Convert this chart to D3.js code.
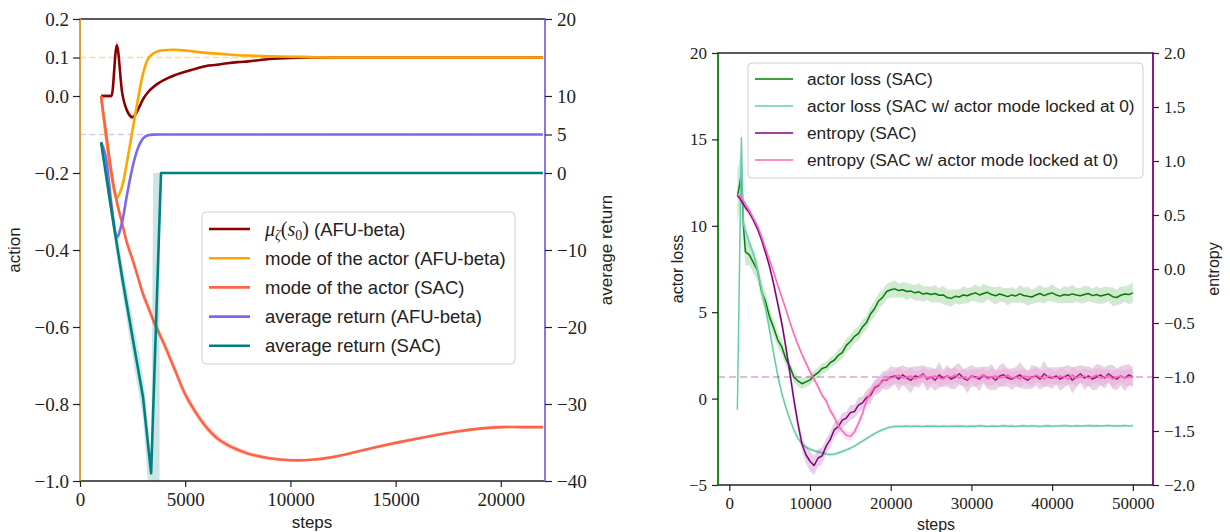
<!DOCTYPE html>
<html>
<head>
<meta charset="utf-8">
<script src="https://cdn.jsdelivr.net/npm/d3@7"></script>
<style>
  body { margin: 0; background: #fff; }
  svg { display: block; }
</style>
</head>
<body>
<svg id="chart" width="1230" height="532"></svg>
<script>
// ---------- Left panel: action / average return vs steps ----------
const stepsL = [1000, 1250, 1500, 1750, 2000, 2250, 2500, 2750, 3000, 3250, 3500, 3750, 4000, 4500,
  5000, 5500, 6000, 6500, 7000, 7500, 8000, 9000, 10000, 11000, 12000, 13000, 14000, 15000,
  16000, 17000, 18000, 19000, 20000, 21000, 22000];

const muAFU = [0, 0, 0, 0.132, 0.01, -0.04, -0.055, -0.036, -0.008, 0.011, 0.024, 0.034, 0.042, 0.054,
  0.063, 0.071, 0.078, 0.081, 0.085, 0.088, 0.09, 0.096, 0.099, 0.1, 0.1, 0.1, 0.1, 0.1,
  0.1, 0.1, 0.1, 0.1, 0.1, 0.1, 0.1];
const muAFUSpread = [0.006, 0.006, 0.006, 0.012, 0.008, 0.006, 0.006, 0.005, 0.004, 0.004, 0.004, 0.003, 0.003, 0.003,
  0.003, 0.003, 0.003, 0.002, 0.002, 0.002, 0.002, 0.002, 0.002, 0.002, 0.002, 0.002, 0.002, 0.002,
  0.002, 0.002, 0.002, 0.002, 0.002, 0.002, 0.002];

const modeAFU = [0, -0.114, -0.21, -0.265, -0.235, -0.166, -0.088, -0.01, 0.059, 0.098, 0.111, 0.117, 0.119, 0.12,
  0.118, 0.115, 0.112, 0.11, 0.108, 0.106, 0.105, 0.103, 0.102, 0.101, 0.1, 0.1, 0.1, 0.1,
  0.1, 0.1, 0.1, 0.1, 0.1, 0.1, 0.1];
const modeAFUSpread = [0.003, 0.004, 0.004, 0.005, 0.005, 0.004, 0.004, 0.004, 0.003, 0.003, 0.003, 0.003, 0.003, 0.003,
  0.003, 0.003, 0.003, 0.003, 0.003, 0.003, 0.003, 0.003, 0.003, 0.003, 0.003, 0.003, 0.003, 0.003,
  0.003, 0.003, 0.003, 0.003, 0.003, 0.003, 0.003];

const modeSAC = [0, -0.1, -0.2, -0.275, -0.33, -0.385, -0.425, -0.47, -0.515, -0.55, -0.585, -0.615, -0.645, -0.71,
  -0.775, -0.822, -0.86, -0.888, -0.906, -0.919, -0.929, -0.941, -0.946, -0.945, -0.938, -0.926, -0.913, -0.901,
  -0.89, -0.88, -0.871, -0.864, -0.86, -0.86, -0.86];
const modeSACSpread = [0.008, 0.01, 0.012, 0.012, 0.012, 0.012, 0.012, 0.012, 0.013, 0.013, 0.013, 0.013, 0.013, 0.013,
  0.012, 0.011, 0.01, 0.009, 0.008, 0.007, 0.006, 0.005, 0.004, 0.004, 0.004, 0.004, 0.004, 0.004,
  0.004, 0.004, 0.004, 0.004, 0.004, 0.004, 0.004];

const returnAFU = [4.0, 1.7, -4.2, -8.3, -6.4, -2.6, 0.8, 3.2, 4.5, 4.9, 4.98, 5, 5, 5,
  5, 5, 5, 5, 5, 5, 5, 5, 5, 5, 5, 5, 5, 5,
  5, 5, 5, 5, 5, 5, 5];
const returnAFUSpread = [0.2, 0.4, 0.6, 0.8, 0.6, 0.5, 0.4, 0.3, 0.2, 0.1, 0.05, 0.02, 0.02, 0.02,
  0.02, 0.02, 0.02, 0.02, 0.02, 0.02, 0.02, 0.02, 0.02, 0.02, 0.02, 0.02, 0.02, 0.02,
  0.02, 0.02, 0.02, 0.02, 0.02, 0.02, 0.02];

const stepsSACReturn = [1000, 1500, 2000, 2500, 3000, 3250, 3380, 3850, 22000];
const returnSAC = [4.0, -5.0, -13.5, -21.4, -29.2, -35.7, -39.0, 0, 0];
const stepsSACBand = [1000, 1500, 2000, 2500, 3000, 3250, 3380, 3480, 3780, 3790, 22000];
const returnSACLo = [3.7, -6.2, -15.5, -23.9, -32.0, -41, -41, -41, -41, 0, 0];
const returnSACHi = [4.3, -3.8, -11.5, -18.9, -26.4, -32.7, -36.5, 0, 0, 0, 0];

const actionTicks = [0.2, 0.1, 0.0, -0.2, -0.4, -0.6, -0.8, -1.0];
const returnTicks = [20, 10, 5, 0, -10, -20, -30, -40];
const stepTicksL = [0, 5000, 10000, 15000, 20000];
const actionTarget = 0.1;
const returnTarget = 5;

// ---------- Right panel: actor loss / entropy vs steps ----------
const stepsR = [1000, 1250, 1500, 1750, ...d3.range(2000, 50001, 500)];

const lossSAC = [11.7, 12.3, 13.1, 10.0, 8.5, 8.3, 7.85, 7.4, 6.2, 5.6,
  4.7, 4.1, 3.4, 3.0, 2.3, 1.85, 1.25, 1.02, 0.86, 0.97,
  1.08, 1.33, 1.5, 1.74, 1.82, 2.08, 2.22, 2.5, 2.66, 3.08,
  3.3, 3.6, 3.76, 4.15, 4.4, 4.9, 5.2, 5.65, 5.86, 6.2,
  6.3, 6.35, 6.25, 6.3, 6.2, 6.22, 6.12, 6.18, 6.05, 6.1,
  6.02, 6.08, 5.98, 6.0, 5.85, 5.8, 5.92, 5.88, 6.0, 5.95,
  6.05, 6.12, 6.0, 6.08, 6.15, 6.02, 5.95, 6.05, 5.98, 5.9,
  6.0, 5.94, 6.06, 5.97, 5.92, 5.88, 6.0, 6.08, 5.96, 6.05,
  6.12, 6.0, 5.93, 6.02, 5.98, 6.06, 6.0, 5.95, 6.02, 6.08,
  5.96, 6.02, 5.94, 6.0, 6.05, 5.9, 5.85, 5.98, 6.05, 6.02,
  6.12];
const lossSACSpread = [1.5, 1.5, 1.4, 1.0, 0.8, 0.6, 0.6, 0.6, 0.55, 0.55,
  0.5, 0.5, 0.45, 0.45, 0.4, 0.35, 0.3, 0.3, 0.3, 0.3,
  0.3, 0.3, 0.3, 0.3, 0.3, 0.3, 0.3, 0.35, 0.35, 0.4,
  0.4, 0.4, 0.4, 0.4, 0.4, 0.45, 0.45, 0.45, 0.45, 0.45,
  0.45, 0.5, 0.4, 0.45, 0.5, 0.4, 0.45, 0.5, 0.45, 0.4,
  0.45, 0.5, 0.4, 0.55, 0.45, 0.5, 0.4, 0.45, 0.5, 0.45,
  0.4, 0.5, 0.45, 0.55, 0.4, 0.45, 0.5, 0.45, 0.4, 0.5,
  0.45, 0.4, 0.5, 0.45, 0.55, 0.4, 0.45, 0.5, 0.45, 0.4,
  0.5, 0.45, 0.4, 0.5, 0.45, 0.55, 0.4, 0.45, 0.5, 0.45,
  0.4, 0.5, 0.45, 0.5, 0.4, 0.55, 0.45, 0.5, 0.45, 0.55,
  0.6];

const lossLocked = [-0.65, 7.2, 15.1, 10.1, 9.7, 9.0, 8.4, 7.4, 6.3, 5.2,
  3.95, 2.6, 1.35, 0.31, -0.5, -1.2, -1.8, -2.3, -2.6, -2.8,
  -2.93, -3.02, -3.08, -3.14, -3.2, -3.24, -3.22, -3.15, -3.06, -2.97,
  -2.87, -2.75, -2.6, -2.46, -2.32, -2.17, -2.03, -1.9, -1.8, -1.71,
  -1.65, -1.62, -1.6, -1.62, -1.59, -1.61, -1.58, -1.6, -1.62, -1.59,
  -1.6, -1.58, -1.61, -1.59, -1.62, -1.6, -1.58, -1.6, -1.59, -1.61,
  -1.58, -1.6, -1.57, -1.59, -1.61, -1.58, -1.6, -1.59, -1.57, -1.6,
  -1.58, -1.61, -1.59, -1.57, -1.6, -1.58, -1.59, -1.61, -1.58, -1.57,
  -1.6, -1.58, -1.59, -1.56, -1.58, -1.6, -1.57, -1.59, -1.58, -1.56,
  -1.58, -1.57, -1.59, -1.57, -1.56, -1.58, -1.57, -1.59, -1.56, -1.58,
  -1.57];
const lossLockedSpread = [0.1, 0.9, 1.1, 0.5, 0.4, 0.35, 0.3, 0.3, 0.3, 0.3,
  0.3, 0.28, 0.25, 0.22, 0.2, 0.18, 0.15, 0.13, 0.12, 0.1,
  0.1, 0.1, 0.1, 0.1, 0.1, 0.1, 0.1, 0.1, 0.1, 0.1,
  0.1, 0.1, 0.1, 0.1, 0.1, 0.1, 0.1, 0.1, 0.1, 0.1,
  0.08, 0.1, 0.07, 0.09, 0.08, 0.1, 0.07, 0.09, 0.08, 0.07,
  0.09, 0.08, 0.1, 0.07, 0.08, 0.09, 0.07, 0.1, 0.08, 0.09,
  0.07, 0.09, 0.08, 0.1, 0.07, 0.08, 0.09, 0.07, 0.1, 0.08,
  0.09, 0.07, 0.08, 0.1, 0.07, 0.09, 0.08, 0.07, 0.09, 0.1,
  0.08, 0.07, 0.09, 0.08, 0.1, 0.07, 0.09, 0.08, 0.07, 0.09,
  0.1, 0.08, 0.07, 0.09, 0.08, 0.1, 0.07, 0.08, 0.09, 0.07,
  0.08];

const entropySAC = [0.68, 0.66, 0.63, 0.6, 0.57, 0.52, 0.45, 0.37, 0.27, 0.15,
  0.02, -0.14, -0.32, -0.5, -0.72, -0.96, -1.21, -1.43, -1.62, -1.72,
  -1.78, -1.82, -1.75, -1.73, -1.64, -1.58, -1.49, -1.46, -1.4, -1.38,
  -1.33, -1.32, -1.26, -1.24, -1.19, -1.17, -1.1, -1.08, -1.03, -1.03,
  -1.0, -0.99, -1.02, -0.98, -1.01, -1.03, -0.99, -1.0, -0.97, -1.02,
  -1.0, -1.03, -0.98, -1.01, -0.99, -1.02, -1.0, -0.97, -1.01, -1.03,
  -0.99, -1.0, -1.02, -0.98, -1.01, -1.0, -1.03, -0.99, -0.98, -1.01,
  -1.02, -1.0, -0.98, -1.01, -1.03, -1.0, -0.99, -1.02, -0.97, -1.0,
  -1.01, -0.99, -1.02, -1.0, -0.98, -1.03, -1.0, -0.97, -1.01, -0.99,
  -1.02, -1.0, -0.98, -1.01, -0.97, -1.0, -1.02, -0.99, -1.01, -0.98,
  -1.0];
const entropySACSpread = [0.02, 0.02, 0.03, 0.03, 0.03, 0.03, 0.03, 0.03, 0.04, 0.04,
  0.04, 0.05, 0.05, 0.06, 0.06, 0.06, 0.07, 0.07, 0.07, 0.08,
  0.09, 0.09, 0.08, 0.08, 0.07, 0.07, 0.07, 0.06, 0.07, 0.06,
  0.07, 0.06, 0.07, 0.06, 0.07, 0.08, 0.07, 0.08, 0.08, 0.09,
  0.1, 0.08, 0.11, 0.09, 0.1, 0.12, 0.09, 0.1, 0.08, 0.11,
  0.09, 0.1, 0.12, 0.08, 0.1, 0.09, 0.11, 0.1, 0.08, 0.12,
  0.1, 0.09, 0.11, 0.08, 0.1, 0.12, 0.09, 0.1, 0.11, 0.08,
  0.1, 0.09, 0.12, 0.1, 0.08, 0.11, 0.09, 0.1, 0.12, 0.09,
  0.1, 0.08, 0.11, 0.1, 0.09, 0.12, 0.1, 0.08, 0.11, 0.09,
  0.1, 0.12, 0.09, 0.1, 0.08, 0.11, 0.1, 0.09, 0.12, 0.1,
  0.09];

const entropyLocked = [0.69, 0.68, 0.66, 0.63, 0.6, 0.54, 0.47, 0.4, 0.3, 0.19,
  0.08, -0.03, -0.15, -0.26, -0.37, -0.49, -0.6, -0.7, -0.79, -0.87,
  -0.95, -1.02, -1.09, -1.17, -1.22, -1.31, -1.37, -1.45, -1.5, -1.54,
  -1.55, -1.51, -1.43, -1.34, -1.22, -1.15, -1.09, -1.07, -1.04, -1.02,
  -1.01, -1.0, -0.98, -1.01, -1.0, -0.99, -1.02, -1.0, -0.98, -1.01,
  -1.0, -0.99, -1.01, -1.02, -0.99, -1.0, -0.98, -1.01, -1.0, -1.02,
  -0.99, -1.01, -1.0, -0.98, -1.02, -1.0, -0.99, -1.01, -1.0, -0.98,
  -1.01, -1.0, -1.02, -0.99, -1.0, -1.01, -0.98, -1.0, -1.02, -0.99,
  -1.0, -1.01, -0.99, -1.0, -1.02, -0.98, -1.01, -1.0, -0.99, -1.01,
  -1.0, -0.98, -1.01, -1.0, -0.99, -1.02, -1.0, -0.99, -1.01, -1.0,
  -1.0];
const entropyLockedSpread = [0.02, 0.02, 0.02, 0.02, 0.02, 0.02, 0.02, 0.02, 0.02, 0.02,
  0.02, 0.02, 0.03, 0.03, 0.03, 0.03, 0.03, 0.03, 0.03, 0.03,
  0.03, 0.03, 0.03, 0.03, 0.03, 0.04, 0.04, 0.04, 0.04, 0.04,
  0.04, 0.04, 0.04, 0.05, 0.05, 0.05, 0.06, 0.06, 0.06, 0.06,
  0.07, 0.06, 0.08, 0.07, 0.06, 0.08, 0.07, 0.06, 0.07, 0.08,
  0.06, 0.07, 0.08, 0.06, 0.07, 0.08, 0.07, 0.06, 0.08, 0.07,
  0.06, 0.08, 0.07, 0.06, 0.07, 0.08, 0.06, 0.07, 0.08, 0.07,
  0.06, 0.07, 0.08, 0.06, 0.07, 0.08, 0.07, 0.06, 0.08, 0.07,
  0.07, 0.06, 0.08, 0.07, 0.06, 0.08, 0.07, 0.06, 0.07, 0.08,
  0.06, 0.07, 0.08, 0.07, 0.06, 0.08, 0.07, 0.06, 0.07, 0.08,
  0.07];

const lossTicks = [-5, 0, 5, 10, 15, 20];
const entropyTicks = [-2, -1.5, -1, -0.5, 0, 0.5, 1, 1.5, 2];
const stepTicksR = [0, 10000, 20000, 30000, 40000, 50000];
const entropyTarget = -1.0;

// ---------- drawing ----------
const svg = d3.select("#chart");
const serif = "'Liberation Serif', 'Times New Roman', serif";
const sans = "'Liberation Sans', Arial, sans-serif";

const PL = { x0: 80, x1: 545, y0: 19, y1: 481 };
const PR = { x0: 718, x1: 1153, y0: 53, y1: 485 };

const xL = d3.scaleLinear([0, 22100], [PL.x0, PL.x1]);
const yAction = d3.scaleLinear([-1.0, 0.2], [PL.y1, PL.y0]);
const yReturn = d3.scaleLinear([-40, 20], [PL.y1, PL.y0]);

const xR = d3.scaleLinear([-1400, 52500], [PR.x0, PR.x1]);
const yLoss = d3.scaleLinear([-5, 20], [PR.y1, PR.y0]);
const yEnt = d3.scaleLinear([-2, 2], [PR.y1, PR.y0]);

const defs = svg.append("defs");
function clip(id, P) {
  defs.append("clipPath").attr("id", id)
    .append("rect").attr("x", P.x0).attr("y", P.y0)
    .attr("width", P.x1 - P.x0).attr("height", P.y1 - P.y0);
}
clip("clipL", PL);
clip("clipR", PR);

function zipPts(xs, ys) {
  const n = Math.min(xs.length, ys.length);
  const out = [];
  for (let i = 0; i < n; i++) out.push([xs[i], ys[i]]);
  return out;
}

function line(g, xs, ys, x, y, color, width, curve) {
  const pts = zipPts(xs, ys);
  g.append("path")
    .attr("d", d3.line().x(p => x(p[0])).y(p => y(p[1])).curve(curve)(pts))
    .attr("fill", "none").attr("stroke", color).attr("stroke-width", width)
    .attr("stroke-linejoin", "round").attr("stroke-linecap", "butt");
}

function band(g, xs, lo, hi, x, y, color, opacity, curve) {
  const n = Math.min(xs.length, lo.length, hi.length);
  const pts = [];
  for (let i = 0; i < n; i++) pts.push([xs[i], lo[i], hi[i]]);
  g.append("path")
    .attr("d", d3.area().x(p => x(p[0])).y0(p => y(p[1])).y1(p => y(p[2])).curve(curve)(pts))
    .attr("fill", color).attr("fill-opacity", opacity).attr("stroke", "none");
}

function spreadBand(g, xs, vals, spread, x, y, color, opacity, curve) {
  const lo = vals.map((v, i) => v - spread[i]);
  const hi = vals.map((v, i) => v + spread[i]);
  band(g, xs, lo, hi, x, y, color, opacity, curve);
}

function hline(g, P, yPos, color, dash) {
  g.append("line").attr("x1", P.x0).attr("x2", P.x1).attr("y1", yPos).attr("y2", yPos)
    .attr("stroke", color).attr("stroke-width", 1.5).attr("stroke-dasharray", dash);
}

function styleAxis(g, size) {
  g.select(".domain").remove();
  g.selectAll(".tick line").attr("stroke", "#222").attr("stroke-width", 1.2);
  g.selectAll(".tick text").attr("font-family", serif).attr("font-size", size).attr("fill", "#222");
}

function spines(P, leftColor, rightColor) {
  const s = svg.append("g");
  s.append("line").attr("x1", P.x0).attr("x2", P.x1).attr("y1", P.y0).attr("y2", P.y0)
    .attr("stroke", "#222").attr("stroke-width", 1.6);
  s.append("line").attr("x1", P.x0).attr("x2", P.x1).attr("y1", P.y1).attr("y2", P.y1)
    .attr("stroke", "#222").attr("stroke-width", 1.6);
  s.append("line").attr("x1", P.x0).attr("x2", P.x0).attr("y1", P.y0 - 0.8).attr("y2", P.y1 + 0.8)
    .attr("stroke", leftColor).attr("stroke-width", 1.8);
  s.append("line").attr("x1", P.x1).attr("x2", P.x1).attr("y1", P.y0 - 0.8).attr("y2", P.y1 + 0.8)
    .attr("stroke", rightColor).attr("stroke-width", 1.8);
}

const C = {
  mu: "#8B0000", modeAFU: "#FFA500", modeSAC: "#FF6347",
  retAFU: "#7B68EE", retSAC: "#008080",
  lossSAC: "#008000", lossLocked: "#66CDAA", entSAC: "#800080", entLocked: "#FF69B4"
};

// ----- left panel -----
const gL = svg.append("g").attr("clip-path", "url(#clipL)");
hline(gL, PL, yAction(actionTarget), "rgba(255,165,0,0.4)", "6,3.5");
hline(gL, PL, yReturn(returnTarget), "rgba(123,104,238,0.35)", "6,3.5");

const mono = d3.curveMonotoneX;
const smooth = d3.curveCatmullRom.alpha(0.5);
spreadBand(gL, stepsL, muAFU, muAFUSpread, xL, yAction, C.mu, 0.2, mono);
line(gL, stepsL, muAFU, xL, yAction, C.mu, 2.6, mono);
spreadBand(gL, stepsL, modeAFU, modeAFUSpread, xL, yAction, C.modeAFU, 0.2, smooth);
line(gL, stepsL, modeAFU, xL, yAction, C.modeAFU, 2.6, smooth);
spreadBand(gL, stepsL, modeSAC, modeSACSpread, xL, yAction, C.modeSAC, 0.2, smooth);
line(gL, stepsL, modeSAC, xL, yAction, C.modeSAC, 2.6, smooth);

spreadBand(gL, stepsL, returnAFU, returnAFUSpread, xL, yReturn, C.retAFU, 0.2, mono);
line(gL, stepsL, returnAFU, xL, yReturn, C.retAFU, 2.6, mono);
band(gL, stepsSACBand, returnSACLo, returnSACHi, xL, yReturn, C.retSAC, 0.2, d3.curveLinear);
line(gL, stepsSACReturn, returnSAC, xL, yReturn, C.retSAC, 2.6, d3.curveLinear);

spines(PL, "#D69520", "#7B68EE");

styleAxis(svg.append("g").attr("transform", `translate(0,${PL.y1})`)
  .call(d3.axisBottom(xL).tickValues(stepTicksL).tickFormat(d3.format("d")).tickSize(6).tickPadding(6)), 19);
styleAxis(svg.append("g").attr("transform", `translate(${PL.x0},0)`)
  .call(d3.axisLeft(yAction).tickValues(actionTicks).tickFormat(d3.format(".1f")).tickSize(7).tickPadding(4)), 19);
styleAxis(svg.append("g").attr("transform", `translate(${PL.x1},0)`)
  .call(d3.axisRight(yReturn).tickValues(returnTicks).tickFormat(d3.format("d")).tickSize(7).tickPadding(5)), 19);

function label(x, y, text, rot, size) {
  svg.append("text").attr("transform", `translate(${x},${y}) rotate(${rot})`)
    .attr("text-anchor", "middle").attr("dominant-baseline", "central")
    .attr("font-family", sans).attr("font-size", size).attr("fill", "#222").text(text);
}
label(312, 522, "steps", 0, 17);
label(14, 250, "action", -90, 17);
label(606, 250, "average return", -90, 17);

// left legend
const legL = svg.append("g");
legL.append("rect").attr("x", 202).attr("y", 212).attr("width", 313).attr("height", 152)
  .attr("rx", 4).attr("fill", "#fff").attr("fill-opacity", 0.85).attr("stroke", "#d0d0d0").attr("stroke-width", 1);
const legLItems = [
  { c: C.mu, t: null },
  { c: C.modeAFU, t: "mode of the actor (AFU-beta)" },
  { c: C.modeSAC, t: "mode of the actor (SAC)" },
  { c: C.retAFU, t: "average return (AFU-beta)" },
  { c: C.retSAC, t: "average return (SAC)" }
];
legLItems.forEach((it, i) => {
  const cy = 229 + i * 29.2;
  legL.append("line").attr("x1", 209).attr("x2", 250).attr("y1", cy).attr("y2", cy)
    .attr("stroke", it.c).attr("stroke-width", 2.6);
  const t = legL.append("text").attr("x", 265).attr("y", cy + 6.5)
    .attr("font-size", 18.5).attr("fill", "#222").attr("font-family", sans);
  if (it.t) {
    t.text(it.t);
  } else {
    t.append("tspan").attr("font-family", serif).attr("font-style", "italic").attr("font-size", 20).text("μ");
    t.append("tspan").attr("font-family", serif).attr("font-style", "italic").attr("font-size", 14).attr("dy", 4).text("ζ");
    t.append("tspan").attr("font-family", serif).attr("font-size", 20).attr("dy", -4).text("(");
    t.append("tspan").attr("font-family", serif).attr("font-style", "italic").attr("font-size", 20).text("s");
    t.append("tspan").attr("font-family", serif).attr("font-size", 14).attr("dy", 4).text("0");
    t.append("tspan").attr("font-family", serif).attr("font-size", 20).attr("dy", -4).text(")");
    t.append("tspan").attr("font-family", sans).text(" (AFU-beta)");
  }
});

// ----- right panel -----
const gR = svg.append("g").attr("clip-path", "url(#clipR)");
const lin = d3.curveLinear;
spreadBand(gR, stepsR, lossSAC, lossSACSpread, xR, yLoss, C.lossSAC, 0.18, lin);
line(gR, stepsR, lossSAC, xR, yLoss, C.lossSAC, 1.5, lin);
spreadBand(gR, stepsR, lossLocked, lossLockedSpread, xR, yLoss, C.lossLocked, 0.25, lin);
line(gR, stepsR, lossLocked, xR, yLoss, C.lossLocked, 1.5, lin);

hline(gR, PR, yEnt(entropyTarget), "rgba(128,0,128,0.35)", "7,4");
spreadBand(gR, stepsR, entropySAC, entropySACSpread, xR, yEnt, C.entSAC, 0.18, lin);
line(gR, stepsR, entropySAC, xR, yEnt, C.entSAC, 1.5, lin);
spreadBand(gR, stepsR, entropyLocked, entropyLockedSpread, xR, yEnt, C.entLocked, 0.2, lin);
line(gR, stepsR, entropyLocked, xR, yEnt, C.entLocked, 1.5, lin);

spines(PR, "#008000", "#800080");

styleAxis(svg.append("g").attr("transform", `translate(0,${PR.y1})`)
  .call(d3.axisBottom(xR).tickValues(stepTicksR).tickFormat(d3.format("d")).tickSize(6).tickPadding(6)), 17);
styleAxis(svg.append("g").attr("transform", `translate(${PR.x0},0)`)
  .call(d3.axisLeft(yLoss).tickValues(lossTicks).tickFormat(d3.format("d")).tickSize(6).tickPadding(5)), 17);
styleAxis(svg.append("g").attr("transform", `translate(${PR.x1},0)`)
  .call(d3.axisRight(yEnt).tickValues(entropyTicks).tickFormat(d3.format(".1f")).tickSize(6).tickPadding(5)), 17);

label(936, 524, "steps", 0, 16);
label(677, 269, "actor loss", -90, 16);
label(1213, 269, "entropy", -90, 16);

// right legend
const legR = svg.append("g");
legR.append("rect").attr("x", 748).attr("y", 63).attr("width", 395).attr("height", 115)
  .attr("rx", 4).attr("fill", "#fff").attr("fill-opacity", 0.85).attr("stroke", "#d0d0d0").attr("stroke-width", 1);
const legRItems = [
  { c: C.lossSAC, t: "actor loss (SAC)" },
  { c: C.lossLocked, t: "actor loss (SAC w/ actor mode locked at 0)" },
  { c: C.entSAC, t: "entropy (SAC)" },
  { c: C.entLocked, t: "entropy (SAC w/ actor mode locked at 0)" }
];
legRItems.forEach((it, i) => {
  const cy = 79 + i * 27;
  legR.append("line").attr("x1", 755).attr("x2", 793).attr("y1", cy).attr("y2", cy)
    .attr("stroke", it.c).attr("stroke-width", 1.5);
  legR.append("text").attr("x", 807).attr("y", cy + 6)
    .attr("font-family", sans).attr("font-size", 17.3).attr("fill", "#222").text(it.t);
});
</script>
</body>
</html>
